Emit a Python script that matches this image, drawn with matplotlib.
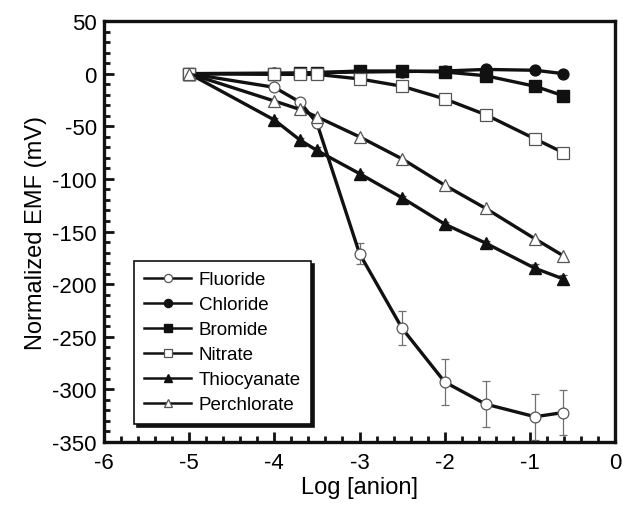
import matplotlib
matplotlib.use('Agg')
import matplotlib.pyplot as plt
from matplotlib.ticker import MultipleLocator

plt.rcParams['font.family'] = ['Liberation Sans', 'DejaVu Sans']
plt.rcParams['axes.unicode_minus'] = False

# log of anion concentration (shared by all series)
log_anion = [-5, -4, -3.7, -3.5, -3, -2.5, -2, -1.52, -0.94, -0.61]

fluoride = [0, -13, -27, -47, -171, -242, -293, -314, -326, -322]
fluoride_err = [5, 3, 3, 4, 10, 16, 22, 22, 22, 21]
chloride = [0, 0.5, 0.5, 1, 1.5, 2, 2.5, 4, 3.2, 0]
bromide = [0, 0, 0.5, 1, 2.5, 2.5, 1.6, -2, -12, -21]
nitrate = [0, -0.7, -0.7, -0.7, -5, -12, -24, -39, -62, -75]
thiocyanate = [0, -44, -63, -73, -95, -118, -143, -161, -185, -195]
thiocyanate_err = [0, 2, 2, 3, 2, 2, 2, 2, 4, 4]
perchlorate = [0, -26, -34, -41, -60, -81, -106, -128, -157, -173]

names = ['Fluoride', 'Chloride', 'Bromide', 'Nitrate', 'Thiocyanate', 'Perchlorate']

fig = plt.figure(figsize=(6.22, 5.06), dpi=100)
ax = fig.add_axes([0.167, 0.1245, 0.822, 0.832])

ax.errorbar(log_anion, fluoride, yerr=fluoride_err, fmt='none', ecolor='#707070',
            elinewidth=0.9, capsize=3, capthick=0.9, zorder=2)
ax.errorbar(log_anion, thiocyanate, yerr=thiocyanate_err, fmt='none', ecolor='#505050',
            elinewidth=0.9, capsize=3, capthick=0.9, zorder=2)

open_kw = dict(markerfacecolor='white', markeredgecolor='#555555', markeredgewidth=0.9)
fill_kw = dict(markerfacecolor='#111111', markeredgecolor='#111111')

ax.plot(log_anion, fluoride, '-o', color='#111111', lw=2.4, ms=7.8, zorder=3,
        label=names[0], **open_kw)
ax.plot(log_anion, chloride, '-o', color='#111111', lw=2.4, ms=7.8, zorder=5,
        label=names[1], **fill_kw)
ax.plot(log_anion, bromide, '-s', color='#111111', lw=2.4, ms=8, zorder=4,
        label=names[2], **fill_kw)
ax.plot(log_anion, nitrate, '-s', color='#111111', lw=2.4, ms=8.5, zorder=6,
        label=names[3], **open_kw)
ax.plot(log_anion, thiocyanate, '-^', color='#111111', lw=2.4, ms=8, zorder=3,
        label=names[4], **fill_kw)
ax.plot(log_anion, perchlorate, '-^', color='#111111', lw=2.4, ms=8, zorder=7,
        label=names[5], **open_kw)

ax.set_xlim(-6, 0)
ax.set_ylim(-350, 50)
ax.xaxis.set_major_locator(MultipleLocator(1))
ax.xaxis.set_minor_locator(MultipleLocator(0.2))
ax.yaxis.set_major_locator(MultipleLocator(50))
ax.yaxis.set_minor_locator(MultipleLocator(10))
ax.tick_params(which='both', direction='in', width=2, labelsize=16, color='#111111')
ax.tick_params(which='major', length=7, pad=5)
ax.tick_params(which='minor', length=4)
ax.tick_params(axis='x', pad=7)
for s in ax.spines.values():
    s.set_linewidth(2.4)
    s.set_color('#111111')

ax.set_xlabel('Log [anion]', fontsize=17, labelpad=2)
ax.set_ylabel('Normalized EMF (mV)', fontsize=17, labelpad=4)

leg = ax.legend(loc='upper left', bbox_to_anchor=(0.059, 0.43), borderaxespad=0,
                fontsize=13.5, fancybox=False, edgecolor='#111111', framealpha=1,
                shadow={'color': '#111111', 'alpha': 1}, handlelength=2.5,
                labelspacing=0.42, handletextpad=0.4, borderpad=0.55,
                markerscale=0.75)
leg.get_frame().set_linewidth(1.2)
leg.set_zorder(10)
for line in leg.get_lines():
    line.set_linewidth(1.8)

fig.savefig('out.png', dpi=100)
